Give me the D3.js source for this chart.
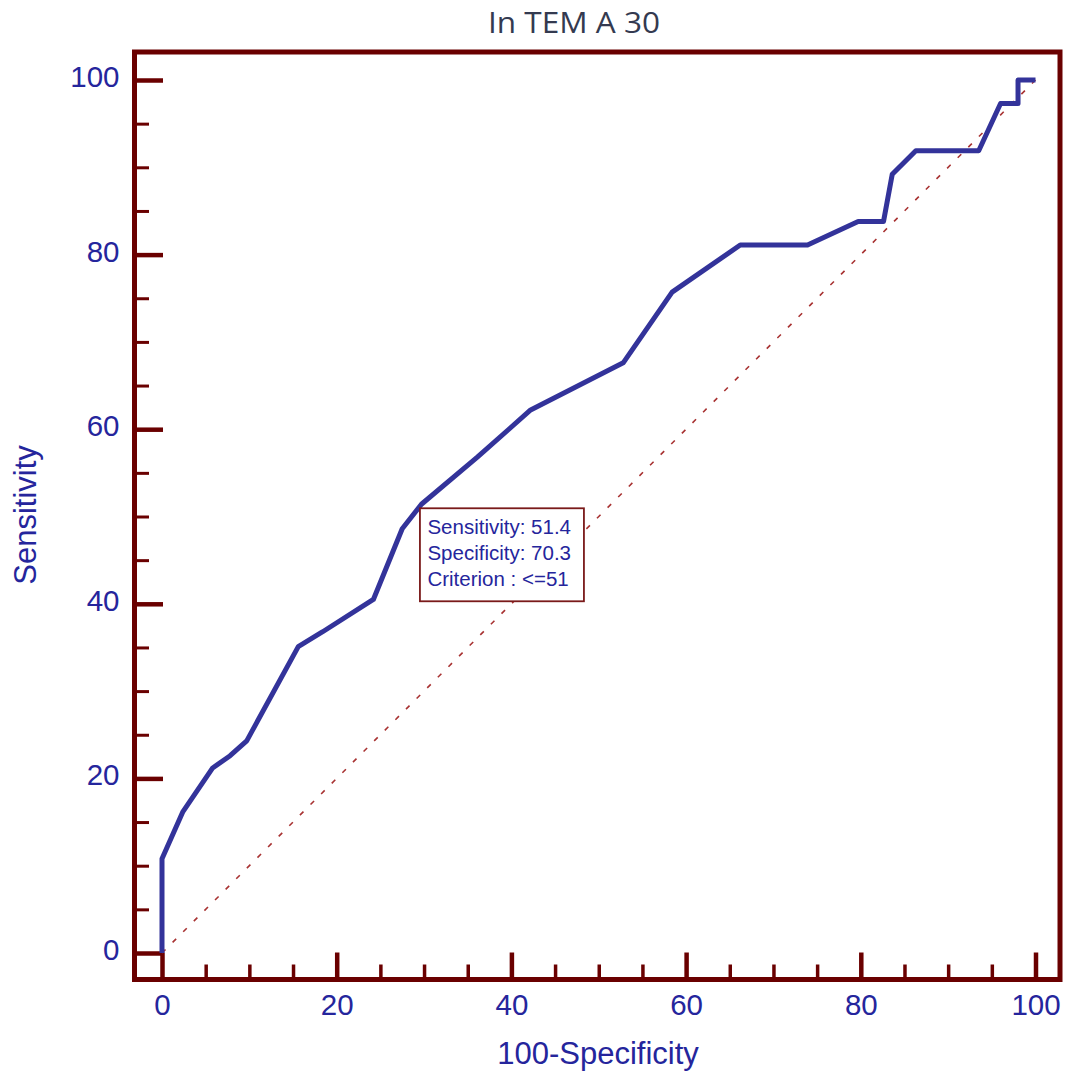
<!DOCTYPE html>
<html>
<head>
<meta charset="utf-8">
<script src="https://cdn.jsdelivr.net/npm/d3@7"></script>
<style>
html,body{margin:0;padding:0;background:#fff;}
svg{display:block;}
</style>
</head>
<body>
<svg id="chart" width="1067" height="1078"></svg>
<script>
// ---- data ----
const title = "In TEM A 30";
const xLabel = "100-Specificity";
const yLabel = "Sensitivity";
const fpr = [0, 0, 2.4, 5.8, 7.8, 9.7, 15.6, 18.4, 24.2, 27.5, 29.7, 36.1, 42.2, 52.8, 58.4, 66.2, 73.9, 79.7, 82.6, 83.6, 86.3, 93.5, 96.0, 98.0, 98.0, 100];
const tpr = [0, 10.8, 16.2, 21.2, 22.6, 24.3, 35.1, 36.8, 40.5, 48.6, 51.4, 56.8, 62.2, 67.6, 75.7, 81.1, 81.1, 83.8, 83.8, 89.2, 91.9, 91.9, 97.3, 97.3, 100, 100];
const majorTicks = [0, 20, 40, 60, 80, 100];
const minorTicks = [5, 10, 15, 25, 30, 35, 45, 50, 55, 65, 70, 75, 85, 90, 95];
const boxLines = ["Sensitivity: 51.4", "Specificity: 70.3", "Criterion : <=51"];
const boxAnchor = [29.7, 51.4];

// ---- layout ----
const frame = {left: 134.5, top: 52, right: 1060, bottom: 979.5};
const x = d3.scaleLinear().domain([0, 100]).range([162, 1035.5]);
const y = d3.scaleLinear().domain([0, 100]).range([953, 80]);
const axisColor = "#6a0000";
const textColor = "#25259c";
const svg = d3.select("#chart");

// frame
svg.append("rect")
  .attr("x", frame.left).attr("y", frame.top)
  .attr("width", frame.right - frame.left).attr("height", frame.bottom - frame.top)
  .attr("fill", "none").attr("stroke", axisColor).attr("stroke-width", 5);

// title
svg.append("text").attr("x", 574).attr("y", 33).attr("text-anchor", "middle")
  .attr("font-family", "'Open Sans', sans-serif").attr("font-size", 30)
  .attr("textLength", 172).attr("lengthAdjust", "spacingAndGlyphs")
  .attr("fill", "#343a50").text(title);

// Y axis major
const yMaj = svg.append("g").attr("transform", `translate(${frame.left},0)`)
  .call(d3.axisLeft(y).tickValues(majorTicks).tickFormat(d3.format("d")).tickSizeInner(-28.5).tickSizeOuter(0).tickPadding(15));
const yMin = svg.append("g").attr("transform", `translate(${frame.left},0)`)
  .call(d3.axisLeft(y).tickValues(minorTicks).tickFormat("").tickSizeInner(-14.5).tickSizeOuter(0));
// X axis
const xMaj = svg.append("g").attr("transform", `translate(0,${frame.bottom})`)
  .call(d3.axisBottom(x).tickValues(majorTicks).tickFormat(d3.format("d")).tickSizeInner(-27).tickSizeOuter(0).tickPadding(15));
const xMin = svg.append("g").attr("transform", `translate(0,${frame.bottom})`)
  .call(d3.axisBottom(x).tickValues(minorTicks).tickFormat("").tickSizeInner(-15).tickSizeOuter(0));

[yMaj, yMin, xMaj, xMin].forEach(g => {
  g.select(".domain").remove();
  g.selectAll(".tick line").attr("stroke", axisColor);
  g.selectAll("text").attr("fill", textColor)
    .attr("font-family", "'Liberation Sans', Arial, sans-serif").attr("font-size", 29.5);
});
yMaj.selectAll(".tick line").attr("stroke-width", 4.5);
yMin.selectAll(".tick line").attr("stroke-width", 3);
xMaj.selectAll(".tick line").attr("stroke-width", 4.5);
xMin.selectAll(".tick line").attr("stroke-width", 3.5);
yMaj.selectAll("text").attr("dy", "0.22em");

// axis labels
svg.append("text").attr("x", 598).attr("y", 1064).attr("text-anchor", "middle")
  .attr("font-family", "'Liberation Sans', Arial, sans-serif").attr("font-size", 31)
  .attr("fill", textColor).text(xLabel);
svg.append("text").attr("transform", "translate(36,515) rotate(-90)").attr("text-anchor", "middle")
  .attr("font-family", "'Liberation Sans', Arial, sans-serif").attr("font-size", 31)
  .attr("fill", textColor).text(yLabel);

// diagonal reference
svg.append("line")
  .attr("x1", x(0)).attr("y1", y(0)).attr("x2", x(100)).attr("y2", y(100))
  .attr("stroke", "#a83232").attr("stroke-width", 1.6).attr("stroke-dasharray", "5,10");

// ROC curve
const pts = fpr.map((d, i) => [d, tpr[i]]);
svg.append("path").datum(pts)
  .attr("d", d3.line().x(d => x(d[0])).y(d => y(d[1])))
  .attr("fill", "none").attr("stroke", "#33339a").attr("stroke-width", 5)
  .attr("stroke-linejoin", "round");

// info box
const bx = x(boxAnchor[0]), by = y(boxAnchor[1]);
svg.append("rect").attr("x", bx - 1.5).attr("y", by + 4).attr("width", 164).attr("height", 93)
  .attr("fill", "#fff").attr("stroke", "#7a1a1a").attr("stroke-width", 1.8);
svg.append("g").selectAll("text").data(boxLines).join("text")
  .attr("x", bx + 6).attr("y", (d, i) => by + 30 + i * 26)
  .attr("font-family", "'Liberation Sans', Arial, sans-serif").attr("font-size", 20.5)
  .attr("fill", textColor).text(d => d);
</script>
</body>
</html>
